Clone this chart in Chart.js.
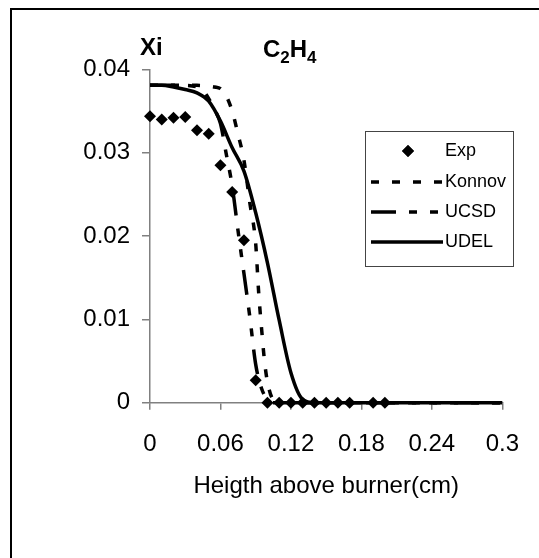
<!DOCTYPE html>
<html>
<head>
<meta charset="utf-8">
<script src="https://cdn.jsdelivr.net/npm/chart.js@4"></script>
<style>
  html, body { margin: 0; padding: 0; background: #fff; overflow: hidden; }
  #wrap { position: relative; width: 539px; height: 558px; }
  #frame { position: absolute; left: 10px; top: 8px; width: 700px; height: 700px;
           border-left: 2px solid #000; border-top: 2px solid #000; }
  canvas { position: absolute; left: 0; top: 0; }
</style>
</head>
<body>
<div id="wrap">
  <div id="frame"></div>
  <canvas id="c2h4Chart" width="539" height="558"></canvas>
</div>
<script>
// mole fraction of C2H4 vs height above burner
const expX = [0, 0.01, 0.02, 0.03, 0.04, 0.05, 0.06, 0.07, 0.08, 0.09, 0.10, 0.11, 0.12, 0.13, 0.14, 0.15, 0.16, 0.17, 0.19, 0.20];
const expY = [0.0344, 0.0340, 0.0342, 0.0343, 0.0327, 0.0323, 0.0285, 0.0253, 0.0195, 0.0027, 0, 0, 0, 0, 0, 0, 0, 0, 0, 0];

const konnovX = [0, 0.02, 0.04, 0.05, 0.055, 0.06, 0.065, 0.07, 0.075, 0.08, 0.085, 0.09, 0.0925, 0.095, 0.0975, 0.1, 0.105, 0.11, 0.2, 0.3];
const konnovY = [0.0381, 0.0381, 0.0381, 0.0380, 0.0379, 0.0377, 0.0368, 0.0350, 0.0322, 0.0291, 0.0240, 0.0191, 0.0133, 0.0089, 0.0050, 0.0025, 0.0003, 0, 0, 0];

const ucsdX = [0, 0.03, 0.04, 0.045, 0.05, 0.055, 0.06, 0.065, 0.07, 0.075, 0.08, 0.085, 0.09, 0.095, 0.1, 0.105, 0.2, 0.3];
const ucsdY = [0.0381, 0.0381, 0.0379, 0.0375, 0.0365, 0.0352, 0.0335, 0.0298, 0.0260, 0.0206, 0.0155, 0.0103, 0.0046, 0.0017, 0.0004, 0, 0, 0];

const udelX = [0, 0.01, 0.02, 0.03, 0.04, 0.05, 0.06, 0.07, 0.08, 0.09, 0.1, 0.11, 0.12, 0.13, 0.14, 0.2, 0.3];
const udelY = [0.0381, 0.0381, 0.0379, 0.0376, 0.0372, 0.0362, 0.0338, 0.0306, 0.0278, 0.0228, 0.0168, 0.0099, 0.0036, 0.0004, 0, 0, 0];

const xTicks = [0, 0.06, 0.12, 0.18, 0.24, 0.3];
const yTicks = [0, 0.01, 0.02, 0.03, 0.04];

const pts = (xs, ys) => xs.map((x, i) => ({ x: x, y: ys[i] }));

Chart.defaults.font.family = "'Liberation Sans', Arial, sans-serif";
Chart.defaults.color = '#000';

// legend box + axis headings drawn straight on the canvas
const extras = {
  id: 'extras',
  afterDraw(chart) {
    const ctx = chart.ctx;
    ctx.save();
    ctx.fillStyle = '#000';
    ctx.textBaseline = 'alphabetic';
    ctx.font = "bold 24px 'Liberation Sans', Arial, sans-serif";
    ctx.fillText('Xi', 140, 55);

    // C2H4 with subscripts
    let x = 263;
    const parts = [['C', false], ['2', true], ['H', false], ['4', true]];
    parts.forEach(([t, sub]) => {
      ctx.font = sub ? "bold 17px 'Liberation Sans', Arial, sans-serif" : "bold 24px 'Liberation Sans', Arial, sans-serif";
      ctx.fillText(t, x, sub ? 63 : 57);
      x += ctx.measureText(t).width;
    });

    // legend
    ctx.strokeStyle = '#444';
    ctx.lineWidth = 1;
    ctx.strokeRect(365.5, 131.5, 148, 135);
    const rows = [151, 182, 212, 242];
    ctx.font = "18px 'Liberation Sans', Arial, sans-serif";
    ctx.textBaseline = 'middle';
    chart.data.datasets.forEach((ds, i) => {
      const y = rows[i];
      if (ds.showLine === false) {
        Chart.helpers.drawPoint(ctx, { pointStyle: ds.pointStyle, radius: ds.pointRadius, borderWidth: 0 }, 408, y);
        ctx.fillStyle = '#000';
        ctx.fill();
      } else {
        ctx.save();
        ctx.strokeStyle = ds.borderColor;
        ctx.lineWidth = ds.borderWidth;
        ctx.setLineDash(ds.borderDash || []);
        ctx.beginPath();
        ctx.moveTo(371, y);
        ctx.lineTo(443, y);
        ctx.stroke();
        ctx.restore();
      }
      ctx.fillStyle = '#000';
      ctx.fillText(ds.label, 445, y);
    });
    ctx.restore();
  }
};

new Chart(document.getElementById('c2h4Chart'), {
  type: 'line',
  data: {
    datasets: [
      {
        label: 'Exp',
        data: pts(expX, expY),
        showLine: false,
        pointStyle: 'rectRot',
        pointRadius: 6,
        pointBackgroundColor: '#000',
        pointBorderColor: '#000',
        pointBorderWidth: 0,
        clip: false
      },
      {
        label: 'Konnov',
        data: pts(konnovX, konnovY),
        borderColor: '#000',
        borderWidth: 3.5,
        borderDash: [8, 13],
        pointRadius: 0,
        cubicInterpolationMode: 'monotone',
        clip: false
      },
      {
        label: 'UCSD',
        data: pts(ucsdX, ucsdY),
        borderColor: '#000',
        borderWidth: 3.5,
        borderDash: [25, 13, 8, 13, 8, 13],
        pointRadius: 0,
        cubicInterpolationMode: 'monotone',
        clip: false
      },
      {
        label: 'UDEL',
        data: pts(udelX, udelY),
        borderColor: '#000',
        borderWidth: 3.5,
        pointRadius: 0,
        cubicInterpolationMode: 'monotone',
        clip: false
      }
    ]
  },
  options: {
    responsive: false,
    animation: false,
    devicePixelRatio: 1,
    layout: { padding: { left: 0, top: 69.5, right: 33, bottom: 0 } },
    plugins: {
      legend: { display: false },
      tooltip: { enabled: false }
    },
    scales: {
      x: {
        type: 'linear',
        min: 0,
        max: 0.3,
        afterFit: (s) => { s.height = 155.3; },
        afterBuildTicks: (s) => { s.ticks = xTicks.map(v => ({ value: v })); },
        ticks: {
          font: { size: 24 },
          padding: 20,
          maxRotation: 0,
          callback: (v) => String(Math.round(v * 100) / 100)
        },
        grid: { drawOnChartArea: false, tickLength: 7, color: '#808080', lineWidth: 1.5 },
        border: { color: '#808080', width: 1.5 },
        title: {
          display: true,
          text: 'Heigth above burner(cm)',
          font: { size: 24 },
          padding: { top: 0, bottom: 57.6 }
        }
      },
      y: {
        type: 'linear',
        min: 0,
        max: 0.04,
        afterFit: (s) => { s.width = 150; },
        afterBuildTicks: (s) => { s.ticks = yTicks.map(v => ({ value: v })); },
        ticks: {
          font: { size: 24 },
          padding: 12,
          callback: (v) => String(Math.round(v * 100) / 100)
        },
        grid: { drawOnChartArea: false, tickLength: 8, color: '#808080', lineWidth: 1.5 },
        border: { color: '#808080', width: 1.5 }
      }
    }
  },
  plugins: [extras]
});
</script>
</body>
</html>
